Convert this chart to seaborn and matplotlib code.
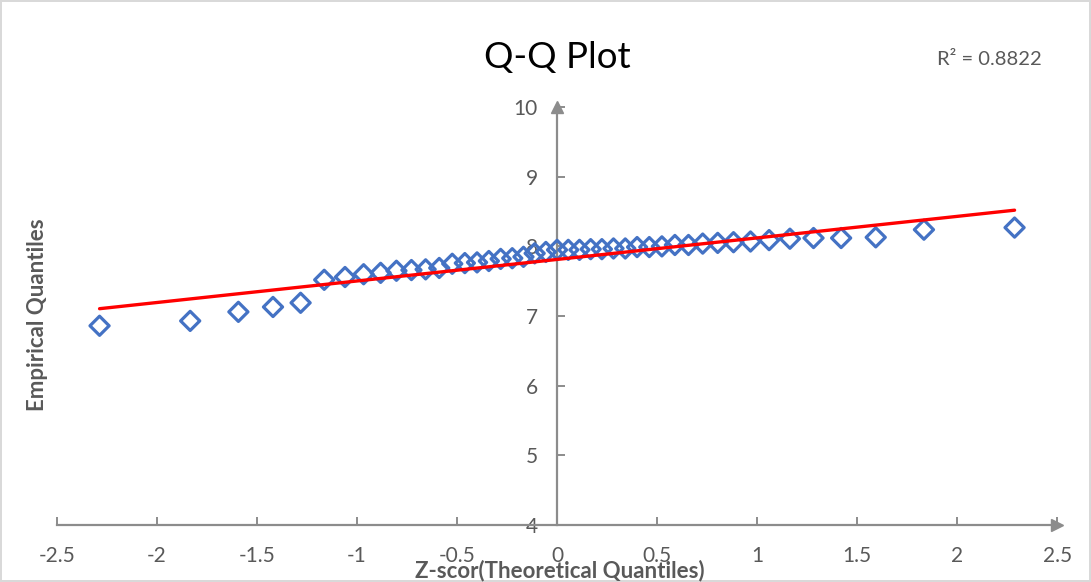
import matplotlib
matplotlib.use('Agg')
import pandas as pd
from matplotlib import pyplot as plt
import seaborn as sns

# theoretical quantiles (z-scores)
z_scores = [-2.287, -1.834, -1.593, -1.420, -1.282, -1.164, -1.060, -0.967, -0.882, -0.803,
            -0.728, -0.657, -0.589, -0.524, -0.461, -0.400, -0.341, -0.282, -0.224, -0.168,
            -0.112, -0.056, 0.000, 0.056, 0.112, 0.168, 0.224, 0.282, 0.341, 0.400,
            0.461, 0.524, 0.589, 0.657, 0.728, 0.803, 0.882, 0.967, 1.060, 1.164,
            1.282, 1.420, 1.593, 1.834, 2.287]

# empirical quantiles
empirical = [6.86, 6.93, 7.06, 7.13, 7.19, 7.52, 7.56, 7.60, 7.62, 7.65,
             7.66, 7.67, 7.69, 7.75, 7.76, 7.77, 7.79, 7.82, 7.83, 7.85,
             7.90, 7.92, 7.95, 7.95, 7.95, 7.96, 7.96, 7.97, 7.97, 7.99,
             7.99, 8.00, 8.02, 8.02, 8.04, 8.05, 8.06, 8.07, 8.09, 8.11,
             8.12, 8.12, 8.13, 8.24, 8.27]

x_ticks = [-2.5, -2, -1.5, -1, -0.5, 0, 0.5, 1, 1.5, 2, 2.5]
x_tick_labels = ['-2.5', '-2', '-1.5', '-1', '-0.5', '0', '0.5', '1', '1.5', '2', '2.5']
y_ticks = [4, 5, 6, 7, 8, 9, 10]
r_squared = 'R² = 0.8822'

df = pd.DataFrame({'z': z_scores, 'q': empirical})

sns.set_style('white')
plt.rcParams['font.family'] = ['Lato', 'DejaVu Sans']

axis_grey = '#8c8c8c'
text_grey = '#595959'

fig, ax = plt.subplots(figsize=(10.91, 5.82), dpi=100, edgecolor='#d9d9d9', linewidth=1.5)
fig.subplots_adjust(left=0.0522, right=0.969, bottom=0.098, top=0.816)

sns.scatterplot(data=df, x='z', y='q', marker='D', s=95, facecolors='none',
                edgecolor='#4472c4', linewidth=2.3, ax=ax, zorder=3)
sns.regplot(data=df, x='z', y='q', scatter=False, ci=None, truncate=True,
            color='#ff0000', line_kws={'lw': 2.4, 'zorder': 4}, ax=ax)

ax.set_xlim(x_ticks[0], x_ticks[-1])
ax.set_ylim(y_ticks[0], y_ticks[-1])
ax.set_xticks(x_ticks)
ax.set_xticklabels(x_tick_labels)
ax.set_yticks(y_ticks)
ax.set_xlabel('')
ax.set_ylabel('')

# Excel-like axes crossing at x = 0
ax.spines[['top', 'right']].set_visible(False)
ax.spines['left'].set_position(('data', 0))
for side in ['left', 'bottom']:
    ax.spines[side].set_color(axis_grey)
    ax.spines[side].set_linewidth(1.6)
ax.tick_params(axis='x', bottom=True, direction='in', length=6, width=1.4, color=axis_grey,
               labelsize=15, labelcolor=text_grey, pad=15)
ax.tick_params(axis='y', left=True, direction='in', length=6, width=1.4, color=axis_grey,
               labelsize=15, labelcolor=text_grey, pad=14)

# arrow heads at the axis ends
ax.plot([0], [y_ticks[-1]], marker='^', ms=9, color=axis_grey, clip_on=False, zorder=5)
ax.plot([x_ticks[-1]], [y_ticks[0]], marker='>', ms=9, color=axis_grey, clip_on=False, zorder=5)

fig.text(0.511, 0.902, 'Q-Q Plot', ha='center', va='center', fontsize=26.5, color='black')
fig.text(0.907, 0.897, r_squared, ha='center', va='center', fontsize=14.5, color=text_grey)
fig.text(0.034, 0.46, 'Empirical Quantiles', ha='center', va='center', rotation=90,
         fontsize=16, fontweight='bold', color=text_grey)
fig.text(0.513, 0.020, 'Z-scor(Theoretical Quantiles)', ha='center', va='center',
         fontsize=16, fontweight='bold', color=text_grey)

plt.savefig('out.png', dpi=100, edgecolor=fig.get_edgecolor())
